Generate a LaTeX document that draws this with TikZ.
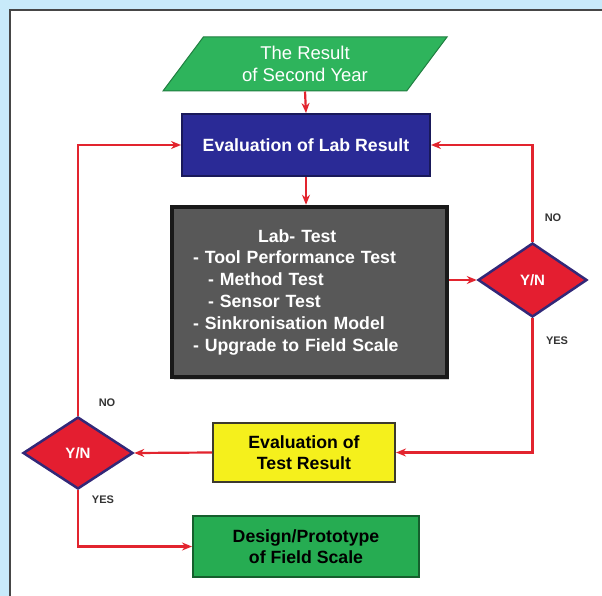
\documentclass[tikz,border=0pt]{standalone}
\usepackage{fontspec}
\setmainfont{Liberation Sans}
\usetikzlibrary{arrows.meta,shapes.geometric,shadows}

\definecolor{bgblue}{RGB}{200,234,250}
\definecolor{framegray}{RGB}{70,70,70}
\definecolor{startgreen}{RGB}{46,180,92}
\definecolor{boxgreen}{RGB}{38,172,82}
\definecolor{labblue}{RGB}{42,42,150}
\definecolor{testgray}{RGB}{88,88,88}
\definecolor{evalyellow}{RGB}{245,240,28}
\definecolor{ynred}{RGB}{228,30,48}
\definecolor{ynnavy}{RGB}{50,40,120}
\definecolor{linkred}{RGB}{226,36,46}

\tikzset{
  link/.style={draw=linkred, line width=2.2pt, -{Stealth[length=10pt,width=8pt]}},
  flowbox/.style={rectangle, align=center, inner sep=0pt, line width=2pt,
    font=\bfseries\fontsize{17.7}{21}\selectfont},
  decide/.style={diamond, inner sep=0pt, fill=ynred, draw=ynnavy, line width=2.5pt,
    text=white, font=\bfseries\fontsize{15}{18}\selectfont},
  answer/.style={font=\bfseries\fontsize{11}{13}\selectfont, text=black!80}
}

\begin{document}
\begin{tikzpicture}[x=1pt,y=-1pt]
        % Background and frame
        \fill[bgblue] (0,0) rectangle (602,596);
        \useasboundingbox (0,0) rectangle (602,596);
        \filldraw[fill=white, draw=framegray, line width=1.5pt] (10,10) rectangle (612,606);

        % Boxes
        \node[trapezium, trapezium left angle=41, trapezium right angle=139,
              trapezium stretches body, minimum width=284pt, minimum height=54pt,
              inner sep=0pt, fill=startgreen, draw=startgreen!70!black, line width=1pt,
              text=white, align=center, font=\fontsize{18.5}{21.5}\selectfont]
              (result) at (305,64) {The Result\\of Second Year};
        \node[flowbox, minimum width=248pt, minimum height=62pt, fill=labblue,
              draw=labblue!60!black, text=white]
              (lab) at (306,145) {Evaluation of Lab Result};
        \node[flowbox, minimum width=275pt, minimum height=170pt, fill=testgray,
              draw=black!90, line width=4.5pt, text=white, text width=233pt, align=left,
              drop shadow={opacity=0.35, shadow xshift=2pt, shadow yshift=-3pt},
              font=\bfseries\fontsize{17.7}{21.8}\selectfont]
              (test) at (309.5,292) {\hspace*{65pt}Lab- Test\\- Tool Performance Test\\
              \hspace*{15pt}- Method Test\\\hspace*{15pt}- Sensor Test\\
              - Sinkronisation Model\\- Upgrade to Field Scale};
        \node[flowbox, minimum width=182pt, minimum height=59pt, fill=evalyellow,
              draw=black!75!olive, text=black]
              (eval) at (304,452.5) {Evaluation of\\Test Result};
        \node[flowbox, minimum width=226pt, minimum height=61pt, fill=boxgreen,
              draw=boxgreen!55!black, text=black]
              (design) at (306,546.5) {Design/Prototype\\of Field Scale};

        % Decisions
        \node[decide, minimum width=109pt, minimum height=74pt] (ynright) at (532.5,280) {Y/N};
        \node[decide, minimum width=110pt, minimum height=72pt] (ynleft) at (78,453) {Y/N};

        % Connectors
        \draw[link] (result.south) -- (lab.north);
        \draw[link] (lab.south) -- (lab.south |- test.north);
        \draw[link] (test.east |- ynright.west) -- (ynright.west);
        \draw[link] (ynright.north) |- (lab.east);
        \draw[link] (ynright.south) |- (eval.east);
        \draw[link] (eval.west) -- (ynleft.east);
        \draw[link] (ynleft.north) |- (lab.west);
        \draw[link] (ynleft.south) |- (design.west);

        % Answers
        \node[answer] (noright) at (553,218) {NO};
        \node[answer] (yesright) at (557,341) {YES};
        \node[answer] (noleft) at (107,403) {NO};
        \node[answer] (yesleft) at (103,500) {YES};
    \end{tikzpicture}
\end{document}
